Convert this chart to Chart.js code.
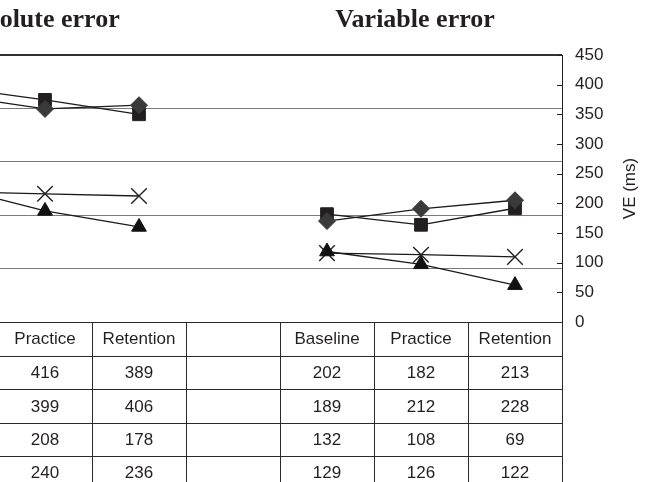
<!DOCTYPE html>
<html lang="en">
<head>
  <meta charset="UTF-8">
  <title>Absolute and variable error</title>
  <script src="https://cdn.jsdelivr.net/npm/chart.js"></script>
  <style>
    html, body {
      margin: 0;
      padding: 0;
      background: #fff;
      overflow: hidden;
    }
    body {
      width: 655px;
      height: 482px;
      position: relative;
    }
    /* the figure is cropped on the left, so the canvas starts off-page */
    #wrap {
      position: absolute;
      left: -150px;
      top: 0;
      width: 805px;
      height: 482px;
    }
  </style>
</head>
<body>
  <div id="wrap"><canvas id="errChart" width="805" height="482"></canvas></div>
  <script>
    const categories = ['Baseline', 'Practice', 'Retention', '', 'Baseline', 'Practice', 'Retention'];

    // absolute error (ms); baseline column is cut off in the figure, estimated from the lines
    const aeSquare = [440, 416, 389];
    const aeDiamond = [425, 399, 406];
    const aeTriangle = [253, 208, 178];
    const aeCross = [244, 240, 236];

    // variable error (ms)
    const veSquare = [202, 182, 213];
    const veDiamond = [189, 212, 228];
    const veTriangle = [132, 108, 69];
    const veCross = [129, 126, 122];

    const gridTicks = [0, 100, 200, 300, 400, 500];
    const veTicks = [0, 50, 100, 150, 200, 250, 300, 350, 400, 450];

    const SANS = '"Liberation Sans", Arial, sans-serif';
    const SERIF = '"Liberation Serif", "Times New Roman", serif';
    const INK = '#231f20';

    function joinRow(ae, ve) {
      return [...ae, null, ...ve];
    }

    const rows = [
      { data: joinRow(aeSquare, veSquare), style: 'rect', radius: 9, fill: '#231f20', order: 2 },
      { data: joinRow(aeDiamond, veDiamond), style: 'rectRot', radius: 8.5, fill: '#3a3a3a', order: 1 },
      { data: joinRow(aeTriangle, veTriangle), style: 'triangle', radius: 8.5, fill: '#111', order: 3 },
      { data: joinRow(aeCross, veCross), style: 'crossRot', radius: 11, fill: '#222', order: 4 }
    ];

    const figurePlugin = {
      id: 'figure',
      afterDraw(chart) {
        const { ctx, chartArea: a, scales: { x, y2 } } = chart;
        const H = chart.height;
        ctx.save();

        // panel titles
        ctx.fillStyle = INK;
        ctx.font = 'bold 26px ' + SERIF;
        ctx.textAlign = 'center';
        ctx.textBaseline = 'alphabetic';
        ctx.fillText('Absolute error', x.getPixelForValue(1) - 7, 27);
        ctx.fillText('Variable error', x.getPixelForValue(5) - 6, 27);

        // inner tick marks on the VE axis
        ctx.strokeStyle = INK;
        ctx.lineWidth = 1;
        y2.ticks.forEach(t => {
          const py = Math.round(y2.getPixelForValue(t.value)) + 0.5;
          ctx.beginPath();
          ctx.moveTo(a.right - 5, py);
          ctx.lineTo(a.right, py);
          ctx.stroke();
        });

        // axis title, reading bottom to top
        ctx.save();
        ctx.translate(a.right + 68, (a.top + a.bottom) / 2);
        ctx.rotate(-Math.PI / 2);
        ctx.font = '17px ' + SANS;
        ctx.textBaseline = 'middle';
        ctx.fillText('VE (ms)', 0, 0);
        ctx.restore();

        // data table under the plot
        const w = x.getPixelForValue(1) - x.getPixelForValue(0);
        const edges = [];
        for (let i = -1; i <= categories.length; i++) {
          edges.push(x.getPixelForValue(0) - w / 2 + i * w);
        }
        const rowH = 33.3;
        const headH = 34;
        const lines = [a.bottom, a.bottom + headH];
        for (let r = 1; r <= rows.length; r++) lines.push(a.bottom + headH + r * rowH);

        ctx.strokeStyle = '#2a2a2a';
        lines.forEach(ly => {
          const py = Math.round(ly) + 0.5;
          ctx.beginPath();
          ctx.moveTo(0, py);
          ctx.lineTo(a.right, py);
          ctx.stroke();
        });
        edges.forEach(ex => {
          const px = Math.round(ex) + 0.5;
          ctx.beginPath();
          ctx.moveTo(px, a.bottom);
          ctx.lineTo(px, H);
          ctx.stroke();
        });

        ctx.fillStyle = INK;
        ctx.font = '17px ' + SANS;
        ctx.textAlign = 'center';
        ctx.textBaseline = 'middle';
        categories.forEach((c, i) => {
          const cx = x.getPixelForValue(i);
          ctx.fillText(c, cx, a.bottom + headH / 2);
          rows.forEach((r, k) => {
            const v = r.data[i];
            if (v === null) return;
            ctx.fillText(String(v), cx, a.bottom + headH + k * rowH + rowH / 2 + 1);
          });
        });

        ctx.restore();
      }
    };

    new Chart(document.getElementById('errChart'), {
      type: 'line',
      data: {
        labels: categories,
        datasets: rows.map(r => ({
          data: r.data,
          order: r.order,
          borderColor: '#1a1a1a',
          borderWidth: 1.3,
          pointStyle: r.style,
          pointRadius: r.radius,
          pointBackgroundColor: r.fill,
          pointBorderColor: r.fill,
          pointBorderWidth: r.style === 'crossRot' ? 1.4 : 1,
          spanGaps: false,
          tension: 0
        }))
      },
      options: {
        responsive: false,
        animation: false,
        devicePixelRatio: 1,
        layout: { padding: { left: 54, top: 55, right: 0, bottom: 160 } },
        plugins: {
          legend: { display: false },
          tooltip: { enabled: false }
        },
        scales: {
          x: {
            type: 'category',
            display: false,
            offset: true
          },
          y: {
            position: 'left',
            min: 0,
            max: 500,
            afterBuildTicks: s => { s.ticks = gridTicks.map(v => ({ value: v })); },
            afterFit: s => { s.width = 0; },
            ticks: { display: false },
            border: { display: false },
            grid: {
              drawTicks: false,
              color: c => c.tick.value === 500 ? '#333' : (c.tick.value === 0 ? 'rgba(0,0,0,0)' : '#7a7a7a'),
              lineWidth: c => c.tick.value === 500 ? 2 : 1
            }
          },
          y2: {
            position: 'right',
            min: 0,
            max: 450,
            afterBuildTicks: s => { s.ticks = veTicks.map(v => ({ value: v })); },
            afterFit: s => { s.width = 93; },
            ticks: {
              color: INK,
              padding: 13,
              font: { family: SANS, size: 17 }
            },
            border: { display: true, color: INK, width: 1 },
            grid: { drawOnChartArea: false, drawTicks: false }
          }
        }
      },
      plugins: [figurePlugin]
    });
  </script>
</body>
</html>
